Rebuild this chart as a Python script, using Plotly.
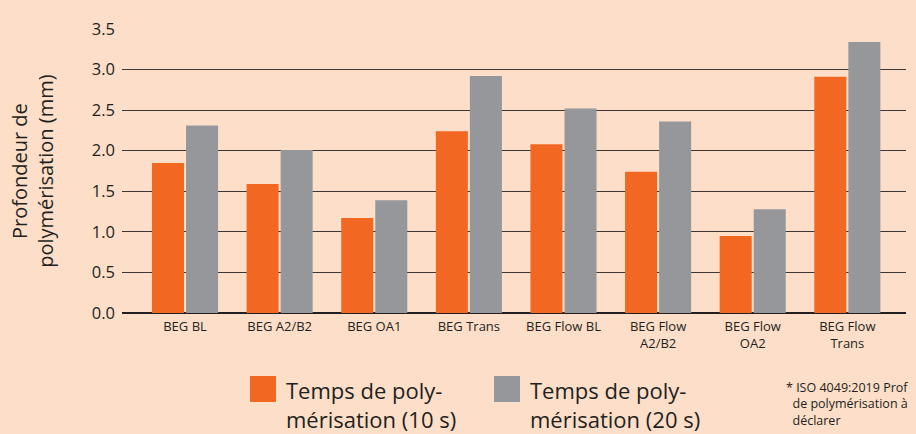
import plotly.graph_objects as go

categories = ["BEG BL", "BEG A2/B2", "BEG OA1", "BEG Trans", "BEG Flow BL",
              "BEG Flow<br>A2/B2", "BEG Flow<br>OA2", "BEG Flow<br>Trans"]
series_10s_name = "Temps de poly-<br>mérisation (10 s)"
series_20s_name = "Temps de poly-<br>mérisation (20 s)"
values_10s = [1.85, 1.59, 1.17, 2.24, 2.08, 1.74, 0.95, 2.91]
values_20s = [2.31, 2.01, 1.39, 2.92, 2.52, 2.36, 1.28, 3.34]
y_ticks = [0.0, 0.5, 1.0, 1.5, 2.0, 2.5, 3.0, 3.5]
y_title = "Profondeur de<br>polymérisation (mm)"
footnote_lines = ["* ISO 4049:2019 Prof", "\u00a0\u00a0de polymérisation à", "\u00a0\u00a0déclarer"]

ORANGE = "#F26822"
GRAY = "#96979B"
BG = "#FDDEC8"
FONT = "Open Sans"
TXT = "#231F20"

fig = go.Figure()
fig.add_trace(go.Bar(x=categories, y=values_10s, name=series_10s_name,
                     marker=dict(color=ORANGE, line=dict(width=0)), showlegend=False))
fig.add_trace(go.Bar(x=categories, y=values_20s, name=series_20s_name,
                     marker=dict(color=GRAY, line=dict(width=0)), showlegend=False))

W, H = 916, 434
ml, mr, mt, mb = 122, 10, 29, 121
fig.update_layout(
    width=W, height=H,
    margin=dict(l=ml, r=mr, t=mt, b=mb, pad=0),
    paper_bgcolor=BG, plot_bgcolor=BG,
    barmode="group", bargap=0.28, bargroupgap=0.06,
    font=dict(family=FONT, color=TXT),
    xaxis=dict(type="category", range=[-0.666, 7.62], showgrid=False,
               showline=False, ticks="", tickfont=dict(size=13, color=TXT),
               tickangle=0, zeroline=False, ticklabelstandoff=4),
    yaxis=dict(range=[0, 3.5], tickvals=y_ticks,
               ticktext=[f"{v:.1f}" for v in y_ticks],
               showgrid=True, gridcolor="#3E3633", gridwidth=1.4,
               zeroline=True, zerolinecolor="#231F20", zerolinewidth=1.6,
               showline=False, ticks="", tickfont=dict(size=16.5, color=TXT),
               ticklabelstandoff=6),
)

# y-axis title
fig.add_annotation(text=y_title, xref="paper", yref="paper",
                   x=-0.115, y=0.5, xanchor="center", yanchor="middle",
                   textangle=-90, showarrow=False,
                   font=dict(size=20, color=TXT, family=FONT))

pw = W - ml - mr
ph = H - mt - mb
def px_x(p):
    return (p - ml) / pw
def px_y(p):
    return (H - mb - p) / ph

# custom legend
for (x0, x1, col, name, tx) in [(250, 276, ORANGE, series_10s_name, 284),
                                (494, 520, GRAY, series_20s_name, 528)]:
    fig.add_shape(type="rect", xref="paper", yref="paper",
                  x0=px_x(x0), x1=px_x(x1), y0=px_y(402), y1=px_y(376),
                  fillcolor=col, line=dict(width=0))
    fig.add_annotation(text=name, xref="paper", yref="paper",
                       x=px_x(tx), y=px_y(373), xanchor="left", yanchor="top",
                       align="left", showarrow=False,
                       font=dict(size=22, color=TXT, family=FONT))

fig.add_annotation(text="<br>".join(footnote_lines), xref="paper", yref="paper",
                   x=px_x(785), y=px_y(378), xanchor="left", yanchor="top",
                   align="left", showarrow=False, borderpad=0,
                   font=dict(size=12.5, color=TXT, family=FONT))

fig.write_html("out.html", config={"displayModeBar": False},
               post_script="document.body.style.margin='0';document.body.style.padding='0';")
